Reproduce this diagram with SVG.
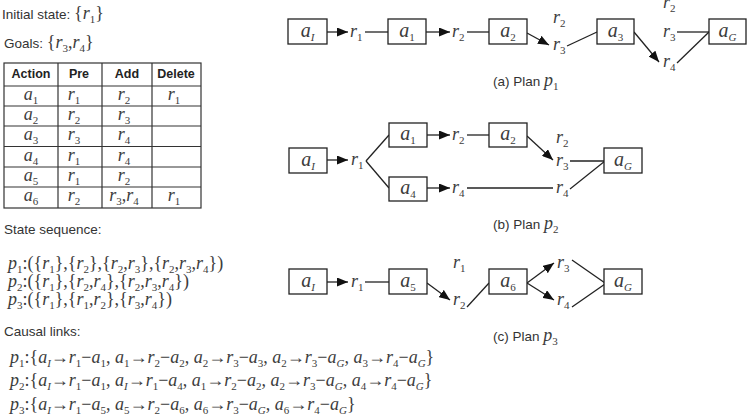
<svg xmlns="http://www.w3.org/2000/svg" width="751" height="418" viewBox="0 0 751 418">
<style>
.t{font-family:"Liberation Sans",Arial,sans-serif;font-size:13.5px;fill:#333}
.h{font-family:"Liberation Sans",Arial,sans-serif;font-size:12.5px;font-weight:bold;fill:#222}
.m{font-family:"Liberation Serif","Times New Roman",serif;font-style:italic;font-size:18px;fill:#3c3c3c}
.b{font-size:20px}
.s{font-size:11px;font-style:normal;baseline-shift:-4px}
.si{font-size:11px;font-style:italic;baseline-shift:-4px}
.n{font-style:normal}
.box{fill:#fff;stroke:#222;stroke-width:1.3}
.ln{stroke:#222;stroke-width:1.3;fill:none}
.ar{stroke:#222;stroke-width:1.3;fill:none;marker-end:url(#ah)}
.grid{stroke:#333;stroke-width:1.2;fill:none}
</style>
<defs>
<marker id="ah" markerUnits="userSpaceOnUse" markerWidth="12" markerHeight="9" refX="11" refY="4.5" orient="auto">
<path d="M0,0 L11,4.5 L0,9 z" fill="#111"/>
</marker>
</defs>

<g id="info">
<text class="t" x="2" y="19">Initial state: <tspan class="m n">{</tspan><tspan class="m">r</tspan><tspan class="m s">1</tspan><tspan class="m n">}</tspan></text>
<text class="t" x="4" y="48">Goals: <tspan class="m n">{</tspan><tspan class="m">r</tspan><tspan class="m s">3</tspan><tspan class="m n">,</tspan><tspan class="m">r</tspan><tspan class="m s">4</tspan><tspan class="m n">}</tspan></text>
</g>

<g id="table">
<rect class="grid" x="4" y="63" width="197" height="145"/>
<line class="grid" x1="58" y1="63" x2="58" y2="208"/>
<line class="grid" x1="102" y1="63" x2="102" y2="208"/>
<line class="grid" x1="152" y1="63" x2="152" y2="208"/>
<line class="grid" x1="4" y1="86" x2="201" y2="86"/>
<line class="grid" x1="4" y1="106" x2="201" y2="106"/>
<line class="grid" x1="4" y1="126" x2="201" y2="126"/>
<line class="grid" x1="4" y1="146.5" x2="201" y2="146.5"/>
<line class="grid" x1="4" y1="167" x2="201" y2="167"/>
<line class="grid" x1="4" y1="187" x2="201" y2="187"/>
<text class="h" x="31" y="78" text-anchor="middle">Action</text>
<text class="h" x="79" y="78" text-anchor="middle">Pre</text>
<text class="h" x="127" y="78" text-anchor="middle">Add</text>
<text class="h" x="176" y="78" text-anchor="middle">Delete</text>
<g class="m" text-anchor="middle">
<text x="31" y="100">a<tspan class="s">1</tspan></text>
<text x="31" y="120">a<tspan class="s">2</tspan></text>
<text x="31" y="140">a<tspan class="s">3</tspan></text>
<text x="31" y="161">a<tspan class="s">4</tspan></text>
<text x="31" y="181">a<tspan class="s">5</tspan></text>
<text x="31" y="201">a<tspan class="s">6</tspan></text>
<text x="74" y="100">r<tspan class="s">1</tspan></text>
<text x="74" y="120">r<tspan class="s">2</tspan></text>
<text x="74" y="140">r<tspan class="s">3</tspan></text>
<text x="74" y="161">r<tspan class="s">1</tspan></text>
<text x="74" y="181">r<tspan class="s">1</tspan></text>
<text x="74" y="201">r<tspan class="s">2</tspan></text>
<text x="124" y="100">r<tspan class="s">2</tspan></text>
<text x="124" y="120">r<tspan class="s">3</tspan></text>
<text x="124" y="140">r<tspan class="s">4</tspan></text>
<text x="124" y="161">r<tspan class="s">4</tspan></text>
<text x="124" y="181">r<tspan class="s">2</tspan></text>
<text x="124" y="201">r<tspan class="s">3</tspan><tspan class="n">,</tspan>r<tspan class="s">4</tspan></text>
<text x="174" y="100">r<tspan class="s">1</tspan></text>
<text x="174" y="201">r<tspan class="s">1</tspan></text>
</g>
</g>

<g id="sequences">
<text class="t" x="4" y="234">State sequence:</text>
<text class="m" x="8" y="269">p<tspan class="s">1</tspan><tspan class="n">:({</tspan>r<tspan class="s">1</tspan><tspan class="n">},{</tspan>r<tspan class="s">2</tspan><tspan class="n">},{</tspan>r<tspan class="s">2</tspan><tspan class="n">,</tspan>r<tspan class="s">3</tspan><tspan class="n">},{</tspan>r<tspan class="s">2</tspan><tspan class="n">,</tspan>r<tspan class="s">3</tspan><tspan class="n">,</tspan>r<tspan class="s">4</tspan><tspan class="n">})</tspan></text>
<text class="m" x="8" y="287">p<tspan class="s">2</tspan><tspan class="n">:({</tspan>r<tspan class="s">1</tspan><tspan class="n">},{</tspan>r<tspan class="s">2</tspan><tspan class="n">,</tspan>r<tspan class="s">4</tspan><tspan class="n">},{</tspan>r<tspan class="s">2</tspan><tspan class="n">,</tspan>r<tspan class="s">3</tspan><tspan class="n">,</tspan>r<tspan class="s">4</tspan><tspan class="n">})</tspan></text>
<text class="m" x="8" y="305">p<tspan class="s">3</tspan><tspan class="n">:({</tspan>r<tspan class="s">1</tspan><tspan class="n">},{</tspan>r<tspan class="s">1</tspan><tspan class="n">,</tspan>r<tspan class="s">2</tspan><tspan class="n">},{</tspan>r<tspan class="s">3</tspan><tspan class="n">,</tspan>r<tspan class="s">4</tspan><tspan class="n">})</tspan></text>
</g>

<g id="links">
<text class="t" x="4" y="336">Causal links:</text>
<text class="m" x="10" y="363">p<tspan class="s">1</tspan><tspan class="n">:{</tspan>a<tspan class="si">I</tspan><tspan class="n">→</tspan>r<tspan class="s">1</tspan><tspan class="n">−</tspan>a<tspan class="s">1</tspan><tspan class="n">, </tspan>a<tspan class="s">1</tspan><tspan class="n">→</tspan>r<tspan class="s">2</tspan><tspan class="n">−</tspan>a<tspan class="s">2</tspan><tspan class="n">, </tspan>a<tspan class="s">2</tspan><tspan class="n">→</tspan>r<tspan class="s">3</tspan><tspan class="n">−</tspan>a<tspan class="s">3</tspan><tspan class="n">, </tspan>a<tspan class="s">2</tspan><tspan class="n">→</tspan>r<tspan class="s">3</tspan><tspan class="n">−</tspan>a<tspan class="si">G</tspan><tspan class="n">, </tspan>a<tspan class="s">3</tspan><tspan class="n">→</tspan>r<tspan class="s">4</tspan><tspan class="n">−</tspan>a<tspan class="si">G</tspan><tspan class="n">}</tspan></text>
<text class="m" x="10" y="386">p<tspan class="s">2</tspan><tspan class="n">:{</tspan>a<tspan class="si">I</tspan><tspan class="n">→</tspan>r<tspan class="s">1</tspan><tspan class="n">−</tspan>a<tspan class="s">1</tspan><tspan class="n">, </tspan>a<tspan class="si">I</tspan><tspan class="n">→</tspan>r<tspan class="s">1</tspan><tspan class="n">−</tspan>a<tspan class="s">4</tspan><tspan class="n">, </tspan>a<tspan class="s">1</tspan><tspan class="n">→</tspan>r<tspan class="s">2</tspan><tspan class="n">−</tspan>a<tspan class="s">2</tspan><tspan class="n">, </tspan>a<tspan class="s">2</tspan><tspan class="n">→</tspan>r<tspan class="s">3</tspan><tspan class="n">−</tspan>a<tspan class="si">G</tspan><tspan class="n">, </tspan>a<tspan class="s">4</tspan><tspan class="n">→</tspan>r<tspan class="s">4</tspan><tspan class="n">−</tspan>a<tspan class="si">G</tspan><tspan class="n">}</tspan></text>
<text class="m" x="10" y="410">p<tspan class="s">3</tspan><tspan class="n">:{</tspan>a<tspan class="si">I</tspan><tspan class="n">→</tspan>r<tspan class="s">1</tspan><tspan class="n">−</tspan>a<tspan class="s">5</tspan><tspan class="n">, </tspan>a<tspan class="s">5</tspan><tspan class="n">→</tspan>r<tspan class="s">2</tspan><tspan class="n">−</tspan>a<tspan class="s">6</tspan><tspan class="n">, </tspan>a<tspan class="s">6</tspan><tspan class="n">→</tspan>r<tspan class="s">3</tspan><tspan class="n">−</tspan>a<tspan class="si">G</tspan><tspan class="n">, </tspan>a<tspan class="s">6</tspan><tspan class="n">→</tspan>r<tspan class="s">4</tspan><tspan class="n">−</tspan>a<tspan class="si">G</tspan><tspan class="n">}</tspan></text>
</g>

<g id="connectors">
<!-- plan a -->
<line class="ar" x1="327" y1="32" x2="348" y2="32"/>
<line class="ln" x1="365" y1="32" x2="388" y2="32"/>
<line class="ar" x1="426" y1="32" x2="450" y2="32"/>
<line class="ln" x1="467" y1="32" x2="489" y2="32"/>
<line class="ar" x1="527" y1="33" x2="549" y2="45"/>
<line class="ln" x1="567" y1="46" x2="597" y2="32"/>
<line class="ar" x1="634" y1="32" x2="659" y2="62"/>
<line class="ln" x1="677" y1="32" x2="709" y2="32"/>
<line class="ln" x1="677" y1="63" x2="709" y2="32"/>
<!-- plan b -->
<line class="ar" x1="327" y1="160" x2="348" y2="160"/>
<line class="ln" x1="366" y1="161" x2="389" y2="135"/>
<line class="ln" x1="366" y1="161" x2="389" y2="188"/>
<line class="ar" x1="427" y1="135" x2="450" y2="135"/>
<line class="ln" x1="467" y1="135" x2="489" y2="135"/>
<line class="ar" x1="527" y1="136" x2="553" y2="160"/>
<line class="ln" x1="570" y1="161" x2="605" y2="161"/>
<line class="ar" x1="427" y1="188" x2="450" y2="188"/>
<line class="ln" x1="467" y1="188" x2="553" y2="188"/>
<line class="ln" x1="570" y1="189" x2="605" y2="161"/>
<!-- plan c -->
<line class="ar" x1="327" y1="282" x2="348" y2="282"/>
<line class="ln" x1="365" y1="282" x2="389" y2="282"/>
<line class="ar" x1="427" y1="283" x2="450" y2="300"/>
<line class="ln" x1="467" y1="307" x2="489" y2="283"/>
<line class="ar" x1="527" y1="283" x2="554" y2="263"/>
<line class="ar" x1="527" y1="283" x2="554" y2="300"/>
<line class="ln" x1="572" y1="260" x2="605" y2="283"/>
<line class="ln" x1="572" y1="307" x2="605" y2="284"/>
</g>

<g id="planA">
<g id="a_aI"><rect class="box" x="288" y="19" width="39" height="25"/><text class="m b" x="307.5" y="37" text-anchor="middle">a<tspan class="si">I</tspan></text></g>
<g id="a_a1"><rect class="box" x="388" y="19" width="38" height="25"/><text class="m b" x="407" y="37" text-anchor="middle">a<tspan class="s">1</tspan></text></g>
<g id="a_a2"><rect class="box" x="489" y="19" width="38" height="25"/><text class="m b" x="508" y="37" text-anchor="middle">a<tspan class="s">2</tspan></text></g>
<g id="a_a3"><rect class="box" x="597" y="19" width="37" height="25"/><text class="m b" x="615.5" y="37" text-anchor="middle">a<tspan class="s">3</tspan></text></g>
<g id="a_aG"><rect class="box" x="709" y="19" width="37" height="25"/><text class="m b" x="727.5" y="37" text-anchor="middle">a<tspan class="si">G</tspan></text></g>
<g class="m">
<text x="350" y="37">r<tspan class="s">1</tspan></text>
<text x="452" y="37">r<tspan class="s">2</tspan></text>
<text x="553" y="23">r<tspan class="s">2</tspan></text>
<text x="553" y="50">r<tspan class="s">3</tspan></text>
<text x="663" y="8">r<tspan class="s">2</tspan></text>
<text x="663" y="37">r<tspan class="s">3</tspan></text>
<text x="663" y="67">r<tspan class="s">4</tspan></text>
</g>
<text class="t" x="493" y="86">(a) Plan <tspan class="m">p</tspan><tspan class="m s">1</tspan></text>
</g>

<g id="planB">
<g id="b_aI"><rect class="box" x="289" y="148" width="38" height="25"/><text class="m b" x="308" y="166" text-anchor="middle">a<tspan class="si">I</tspan></text></g>
<g id="b_a1"><rect class="box" x="389" y="123" width="38" height="24"/><text class="m b" x="408" y="140" text-anchor="middle">a<tspan class="s">1</tspan></text></g>
<g id="b_a2"><rect class="box" x="489" y="123" width="38" height="24"/><text class="m b" x="508" y="140" text-anchor="middle">a<tspan class="s">2</tspan></text></g>
<g id="b_a4"><rect class="box" x="389" y="177" width="38" height="24"/><text class="m b" x="408" y="194" text-anchor="middle">a<tspan class="s">4</tspan></text></g>
<g id="b_aG"><rect class="box" x="604" y="148" width="38" height="25"/><text class="m b" x="623" y="166" text-anchor="middle">a<tspan class="si">G</tspan></text></g>
<g class="m">
<text x="351" y="165">r<tspan class="s">1</tspan></text>
<text x="452" y="140">r<tspan class="s">2</tspan></text>
<text x="556" y="143">r<tspan class="s">2</tspan></text>
<text x="556" y="166">r<tspan class="s">3</tspan></text>
<text x="452" y="193">r<tspan class="s">4</tspan></text>
<text x="556" y="193">r<tspan class="s">4</tspan></text>
</g>
<text class="t" x="493" y="229">(b) Plan <tspan class="m">p</tspan><tspan class="m s">2</tspan></text>
</g>

<g id="planC">
<g id="c_aI"><rect class="box" x="289" y="269" width="38" height="25"/><text class="m b" x="308" y="287" text-anchor="middle">a<tspan class="si">I</tspan></text></g>
<g id="c_a5"><rect class="box" x="389" y="269" width="38" height="25"/><text class="m b" x="408" y="287" text-anchor="middle">a<tspan class="s">5</tspan></text></g>
<g id="c_a6"><rect class="box" x="489" y="269" width="38" height="25"/><text class="m b" x="508" y="287" text-anchor="middle">a<tspan class="s">6</tspan></text></g>
<g id="c_aG"><rect class="box" x="604" y="269" width="38" height="25"/><text class="m b" x="623" y="287" text-anchor="middle">a<tspan class="si">G</tspan></text></g>
<g class="m">
<text x="351" y="287">r<tspan class="s">1</tspan></text>
<text x="453" y="268">r<tspan class="s">1</tspan></text>
<text x="453" y="305">r<tspan class="s">2</tspan></text>
<text x="557" y="268">r<tspan class="s">3</tspan></text>
<text x="557" y="305">r<tspan class="s">4</tspan></text>
</g>
<text class="t" x="493" y="341">(c) Plan <tspan class="m">p</tspan><tspan class="m s">3</tspan></text>
</g>
</svg>
